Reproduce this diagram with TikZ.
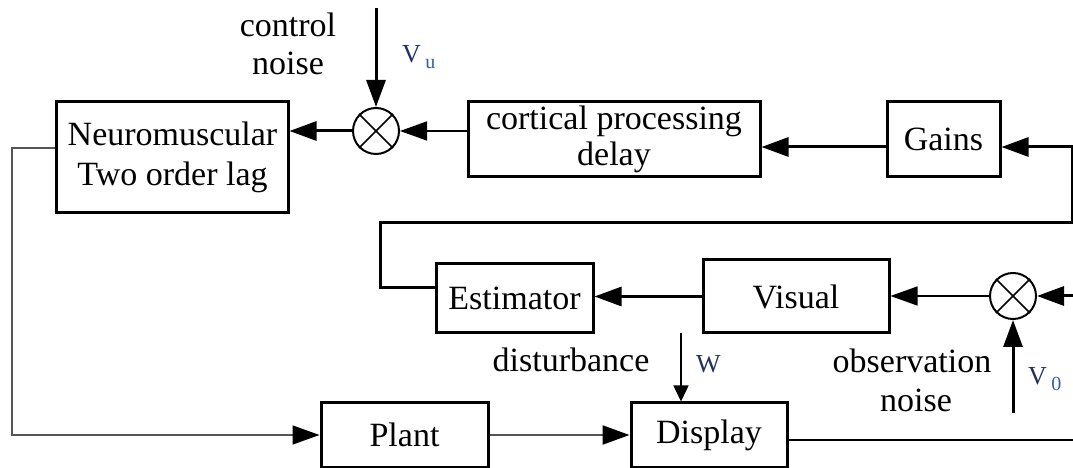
\documentclass[tikz,border=0pt]{standalone}
\usepackage{fontspec}
\setmainfont{Liberation Serif}
\usetikzlibrary{arrows.meta}
\definecolor{lblV}{HTML}{22305E}
\definecolor{lblS}{HTML}{2F5DA8}
\definecolor{lineg}{HTML}{555555}
\tikzset{
  blk/.style={draw, line width=3bp, inner sep=0pt, align=center, font=\fontsize{34bp}{40bp}\selectfont},
  sumj/.style={draw, circle, line width=2bp, minimum size=46bp, inner sep=0pt},
  thk/.style={line width=3bp},
  thn/.style={line width=1.5bp},
  bigtip/.style={-{Triangle[length=27bp,width=19bp,color=black]}},
  smalltip/.style={-{Triangle[length=16bp,width=15bp,color=black]}},
  lbl/.style={font=\fontsize{34bp}{38bp}\selectfont, inner sep=0pt, anchor=base},
  sym/.style={font=\fontsize{26bp}{26bp}\selectfont, text=lblV, inner sep=0pt, anchor=base west},
}
\newcommand{\subsym}[1]{\raisebox{-6bp}{\fontsize{20bp}{20bp}\selectfont\color{lblS}#1}}
\begin{document}
\begin{tikzpicture}[x=1bp,y=-1bp]
\useasboundingbox (0,0) rectangle (1073,468);

% blocks
\node[blk, minimum width=231bp, minimum height=111bp] (neuro) at (172.5,157.5) {Neuromuscular\\Two order lag};
\node[blk, minimum width=292bp, minimum height=75bp, font=\fontsize{34bp}{36bp}\selectfont] (cort) at (614,139.5) {cortical processing\\delay};
\node[blk, minimum width=113bp, minimum height=75bp] (gains) at (943.5,139.5) {Gains};
\node[blk, minimum width=157bp, minimum height=69bp] (est) at (514.5,298.5) {Estimator};
\node[blk, minimum width=186bp, minimum height=73bp] (vis) at (796,296.5) {Visual};
\node[blk, minimum width=167bp, minimum height=64bp] (plant) at (404.5,435) {Plant};
\node[blk, minimum width=156bp, minimum height=64bp] (disp) at (709,435) {Display};

% summing junctions
\node[sumj] (c1) at (376,131) {};
\draw[line width=1.5bp] (c1.north east) -- (c1.south west) (c1.north west) -- (c1.south east);
\node[sumj] (c2) at (1013,296) {};
\draw[line width=1.5bp] (c2.north east) -- (c2.south west) (c2.north west) -- (c2.south east);

% free ends
\coordinate (vus) at (376,8);
\coordinate (inV) at (1073,296);
\coordinate (v0s) at (1013,413);
\coordinate (fb1) at (380,223);
\coordinate (fb2) at (1072,223);
\coordinate (lft) at (12,435);
\coordinate (outD) at (1073,440);
\coordinate (ws) at (681,333);

% connectors
\draw[thk,bigtip] (vus) -- (c1.north);
\draw[thk,bigtip] (c1.west) -- (neuro.east |- c1.west);
\draw[thn,bigtip] (cort.west |- c1.east) -- (c1.east);
\draw[thk,bigtip] ([yshift=-7.5bp]gains.west) -- ([yshift=-7.5bp]cort.east);
\draw[thk,bigtip,line join=miter] ([yshift=10.5bp]est.west) -| (fb1) -| (fb2) |- ([yshift=-7.5bp]gains.east);
\draw[thk,bigtip] (vis.west) -- (est.east |- vis.west);
\draw[thn,bigtip] (c2.west) -- (vis.east |- c2.west);
\draw[thk,bigtip] (inV) -- (c2.east);
\draw[thk,bigtip] (v0s) -- (c2.south);
\draw[thn,draw=lineg,bigtip] ([yshift=9.5bp]neuro.west) -| (lft) -- (plant.west);
\draw[line width=2.2bp,draw=lineg,bigtip] (plant.east) -- (disp.west);
\draw[thn] (disp.east |- outD) -- (outD);
\draw[thn,smalltip] (ws) -- (disp.north -| ws);

% labels
\node[lbl] (t1) at (288,37) {control};
\node[lbl] (t2) at (288,75) {noise};
\node[lbl] (t3) at (571,372) {disturbance};
\node[lbl] (t4) at (912,373) {observation};
\node[lbl] (t5) at (916,412) {noise};
\node[sym] (vu) at (402,63) {V\,\subsym{u}};
\node[sym] (v0) at (1028,385) {V\,\subsym{0}};
\node[sym, font=\fontsize{26bp}{26bp}\selectfont] (wl) at (696,373) {W};
\end{tikzpicture}
\end{document}
